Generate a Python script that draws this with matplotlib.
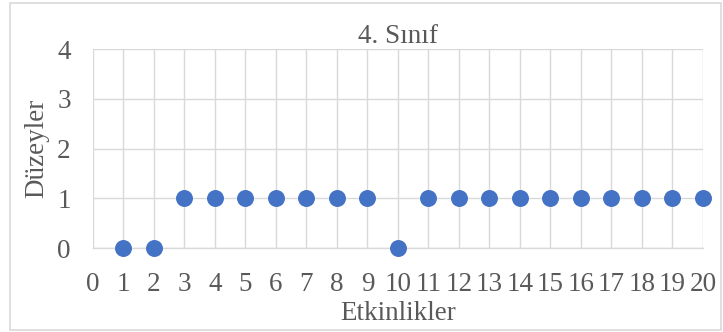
import matplotlib
matplotlib.use("Agg")
import matplotlib.pyplot as plt
from matplotlib.patches import Rectangle

etkinlikler = list(range(1, 21))
duzeyler = [0, 0, 1, 1, 1, 1, 1, 1, 1, 0, 1, 1, 1, 1, 1, 1, 1, 1, 1, 1]
x_ticks = list(range(0, 21))
y_ticks = [0, 1, 2, 3, 4]

plt.rcParams['font.family'] = ['Liberation Serif', 'DejaVu Serif']
text_color = '#595959'
grid_color = '#d9d9d9'
fs = 19.5

fig = plt.figure(figsize=(7.23, 3.32), dpi=100)
ax = fig.add_axes([0.1286, 0.253, 0.8437, 0.599])

ax.scatter(etkinlikler, duzeyler, s=125, color='#4472c4', zorder=3, clip_on=False)

ax.set_xlim(0, 20)
ax.set_ylim(0, 4)
ax.set_xticks(x_ticks)
ax.set_yticks(y_ticks)
ax.grid(True, color=grid_color, linewidth=1.0)
ax.set_axisbelow(True)
for s in ['top', 'right', 'left']:
    ax.spines[s].set_visible(False)
ax.spines['bottom'].set_color(grid_color)
ax.spines['bottom'].set_linewidth(1.0)
ax.tick_params(length=0, labelsize=fs, colors=text_color)
ax.tick_params(axis='x', pad=17)
ax.tick_params(axis='y', pad=16)

ax.set_title('4. Sınıf', fontsize=fs, color=text_color, pad=1)
ax.set_xlabel('Etkinlikler', fontsize=fs, color=text_color, labelpad=3)
ax.set_ylabel('Düzeyler', fontsize=fs, color=text_color, labelpad=6)

fig.patches.append(Rectangle((10 / 723, 2 / 332), 711 / 723, 327 / 332, transform=fig.transFigure,
                             fill=False, edgecolor=grid_color, linewidth=1.2))

fig.savefig('out.png', dpi=100)
